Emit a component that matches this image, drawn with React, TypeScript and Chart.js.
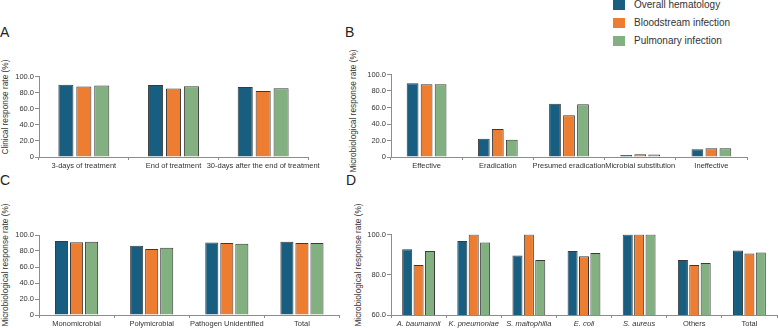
import React, { useEffect, useRef } from 'react';
import { Chart, registerables } from 'chart.js';

Chart.register(...registerables);

const FONT = '"Liberation Sans", Arial, Helvetica, sans-serif';
const TEXT_COLOR = '#333333';
const AXIS_COLOR = '#8c8c8c';
const BAR_EDGE = '#3a3a3a';

const seriesNames = ['Overall hematology', 'Bloodstream infection', 'Pulmonary infection'];
const seriesColors = ['#175E80', '#ED7D31', '#82B080'];

// A — clinical response rate
const clinicalCategories = ['3-days of treatment', 'End of treatment', '30-days after the end of treatment'];
const clinicalOverall = [89.8, 89.4, 87.0];
const clinicalBloodstream = [87.6, 85.0, 82.0];
const clinicalPulmonary = [88.8, 88.0, 85.3];

// B — microbiological outcome
const outcomeCategories = ['Effective', 'Eradication', 'Presumed eradication', 'Microbial substitution', 'Ineffective'];
const outcomeOverall = [89.5, 22.2, 64.5, 2.5, 9.5];
const outcomeBloodstream = [88.3, 33.8, 50.5, 3.4, 10.6];
const outcomePulmonary = [88.3, 21.0, 63.8, 2.9, 10.6];

// C — by infection type
const infectionCategories = ['Monomicrobial', 'Polymicrobial', 'Pathogen Unidentified', 'Total'];
const infectionOverall = [92.5, 86.5, 90.5, 91.5];
const infectionBloodstream = [91.0, 82.5, 90.0, 90.0];
const infectionPulmonary = [91.5, 84.0, 89.0, 90.0];

// D — by pathogen
const pathogenCategories = ['A. baumannii', 'K. pneumoniae', 'S. maltophilia', 'E. coli', 'S. aureus', 'Others', 'Total'];
const pathogenItalic = [true, true, true, true, true, false, false];
const pathogenOverall = [92.7, 96.8, 89.6, 91.8, 100, 87.3, 92.0];
const pathogenBloodstream = [84.8, 100, 100, 89.2, 100, 84.8, 90.5];
const pathogenPulmonary = [91.8, 96.0, 87.3, 90.8, 100, 85.8, 91.0];

// y-axis tick values
const fullRangeTicks = [0, 20, 40, 60, 80, 100];
const upperRangeTicks = [60, 80, 100];

const clinicalTitle = 'Clinical response rate (%)';
const microTitle = 'Microbiological response rate (%)';

type Area = { left: number; top: number; right: number; bottom: number };

interface PanelProps {
  categories: string[];
  italic?: boolean[];
  series: number[][];
  yTicks: number[];
  area: Area;
  yAxisWidth: number;
  categoryPercentage: number;
  barPercentage: number;
  tickSize?: number;
}

const PAD_TOP = 8;
const X_AXIS_H = 16;
const PAD_RIGHT = 16;
const PAD_BOTTOM = 2;

function BarPanel(props: PanelProps) {
  const ref = useRef<HTMLCanvasElement>(null);
  const { area, yAxisWidth } = props;
  const canvasLeft = Math.floor(area.left - yAxisWidth);
  const canvasTop = Math.floor(area.top - PAD_TOP);
  const width = Math.ceil(area.right + PAD_RIGHT) - canvasLeft;
  const height = Math.ceil(area.bottom + X_AXIS_H + PAD_BOTTOM) - canvasTop;
  const padding = {
    left: area.left - yAxisWidth - canvasLeft,
    top: area.top - canvasTop,
    right: canvasLeft + width - area.right,
    bottom: canvasTop + height - area.bottom - X_AXIS_H,
  };

  useEffect(() => {
    const canvas = ref.current;
    if (!canvas) return;
    const tickSize = props.tickSize ?? 7.5;
    const yMin = props.yTicks[0];
    const yMax = props.yTicks[props.yTicks.length - 1];
    const chart = new Chart(canvas, {
      type: 'bar',
      data: {
        labels: props.categories,
        datasets: props.series.map((values, i) => ({
          label: seriesNames[i],
          data: values,
          backgroundColor: seriesColors[i],
          borderColor: BAR_EDGE,
          borderWidth: 1,
          categoryPercentage: props.categoryPercentage,
          barPercentage: props.barPercentage,
        })),
      },
      options: {
        responsive: false,
        animation: false,
        devicePixelRatio: 1,
        layout: { padding },
        plugins: { legend: { display: false }, tooltip: { enabled: false } },
        scales: {
          x: {
            offset: true,
            border: { display: true, color: AXIS_COLOR, width: 1 },
            grid: {
              display: true,
              offset: true,
              drawOnChartArea: false,
              drawTicks: true,
              tickLength: 3,
              color: AXIS_COLOR,
            },
            ticks: {
              autoSkip: false,
              maxRotation: 0,
              minRotation: 0,
              padding: 1,
              color: TEXT_COLOR,
              font: (ctx: any) => ({
                family: FONT,
                size: tickSize,
                style: props.italic && props.italic[ctx.index] ? 'italic' : 'normal',
              }),
            },
            afterFit: (scale: any) => {
              scale.height = X_AXIS_H;
            },
          },
          y: {
            min: yMin,
            max: yMax,
            border: { display: true, color: AXIS_COLOR, width: 1 },
            grid: {
              display: true,
              drawOnChartArea: false,
              drawTicks: true,
              tickLength: 4,
              color: AXIS_COLOR,
            },
            ticks: {
              padding: 1,
              color: TEXT_COLOR,
              font: { family: FONT, size: tickSize },
              callback: (v: any) => (Number(v) === 0 ? '0' : Number(v).toFixed(1)),
            },
            afterBuildTicks: (scale: any) => {
              scale.ticks = props.yTicks.map((v) => ({ value: v }));
            },
            afterFit: (scale: any) => {
              scale.width = yAxisWidth;
            },
          },
        },
      },
    });
    return () => chart.destroy();
  }, []);

  return (
    <canvas
      ref={ref}
      width={width}
      height={height}
      style={{ position: 'absolute', left: canvasLeft, top: canvasTop, width, height }}
    />
  );
}

function AxisTitle({ text, cx, cy }: { text: string; cx: number; cy: number }) {
  return (
    <div
      style={{
        position: 'absolute',
        left: cx,
        top: cy,
        transform: 'translate(-50%, -50%) rotate(-90deg)',
        whiteSpace: 'nowrap',
        fontFamily: FONT,
        fontSize: 8.3,
        lineHeight: '10px',
        color: TEXT_COLOR,
      }}
    >
      {text}
    </div>
  );
}

function PanelLetter({ text, x, y }: { text: string; x: number; y: number }) {
  return (
    <div
      style={{
        position: 'absolute',
        left: x,
        top: y,
        fontFamily: FONT,
        fontSize: 14,
        lineHeight: '14px',
        color: '#222222',
      }}
    >
      {text}
    </div>
  );
}

function Legend() {
  return (
    <div style={{ position: 'absolute', left: 613, top: -1.5 }}>
      {seriesNames.map((name, i) => (
        <div
          key={name}
          style={{ display: 'flex', alignItems: 'center', height: 12, marginBottom: i < 2 ? 6 : 0 }}
        >
          <div style={{ width: 12, height: 10, background: seriesColors[i] }} />
          <div
            style={{
              marginLeft: 9,
              fontFamily: FONT,
              fontSize: 10,
              lineHeight: '12px',
              color: TEXT_COLOR,
              whiteSpace: 'nowrap',
            }}
          >
            {name}
          </div>
        </div>
      ))}
    </div>
  );
}

export default function App() {
  return (
    <div
      style={{
        position: 'absolute',
        left: 0,
        top: 0,
        width: 778,
        height: 328,
        overflow: 'hidden',
        background: '#ffffff',
      }}
    >
      <PanelLetter text="A" x={0} y={25} />
      <PanelLetter text="B" x={345} y={25} />
      <PanelLetter text="C" x={0} y={173} />
      <PanelLetter text="D" x={346} y={173} />
      <Legend />

      <AxisTitle text={clinicalTitle} cx={5} cy={106.5} />
      <AxisTitle text={microTitle} cx={352.5} cy={111} />
      <AxisTitle text={microTitle} cx={5} cy={265} />
      <AxisTitle text={microTitle} cx={358} cy={265} />

      <BarPanel
        categories={clinicalCategories}
        series={[clinicalOverall, clinicalBloodstream, clinicalPulmonary]}
        yTicks={fullRangeTicks}
        area={{ left: 39, top: 76.5, right: 308, bottom: 157 }}
        yAxisWidth={30}
        categoryPercentage={0.6}
        barPercentage={0.84}
      />
      <BarPanel
        categories={outcomeCategories}
        series={[outcomeOverall, outcomeBloodstream, outcomePulmonary]}
        yTicks={fullRangeTicks}
        area={{ left: 391, top: 74.5, right: 747, bottom: 157 }}
        yAxisWidth={30}
        categoryPercentage={0.59}
        barPercentage={0.84}
      />
      <BarPanel
        categories={infectionCategories}
        series={[infectionOverall, infectionBloodstream, infectionPulmonary]}
        yTicks={fullRangeTicks}
        area={{ left: 39, top: 235, right: 339.5, bottom: 315 }}
        yAxisWidth={30}
        categoryPercentage={0.6}
        barPercentage={0.87}
      />
      <BarPanel
        categories={pathogenCategories}
        italic={pathogenItalic}
        series={[pathogenOverall, pathogenBloodstream, pathogenPulmonary]}
        yTicks={upperRangeTicks}
        area={{ left: 391, top: 234.5, right: 777, bottom: 315 }}
        yAxisWidth={30}
        categoryPercentage={0.62}
        barPercentage={0.88}
      />
    </div>
  );
}
